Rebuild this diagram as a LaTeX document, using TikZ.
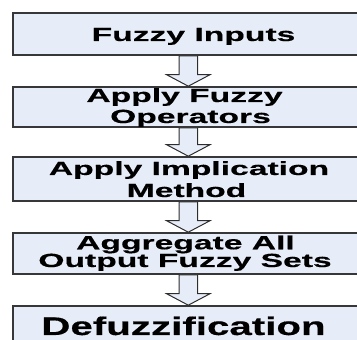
\documentclass[tikz,border=0pt]{standalone}
\usepackage{fontspec}
\usetikzlibrary{calc}
\newfontfamily\stepfont{Liberation Sans}[FakeStretch=1.77,FakeBold=0.5]
\newfontfamily\bigstepfont{Liberation Sans}[FakeStretch=1.58,FakeBold=0.5]
\definecolor{boxfill}{RGB}{231,237,248}
\definecolor{boxline}{RGB}{55,55,58}
\definecolor{arrowline}{RGB}{45,45,45}
\begin{document}
\begin{tikzpicture}[x=1pt,y=1pt,
  stepbox/.style={draw=boxline, line width=1.6pt, fill=boxfill,
    rectangle, inner sep=0pt, minimum width=349pt},
  steptext/.style={anchor=base, inner sep=0pt,
    font=\stepfont\bfseries\fontsize{19}{21}\selectfont},
  bigtext/.style={anchor=base, inner sep=0pt,
    font=\bigstepfont\bfseries\fontsize{25.5}{28}\selectfont},
  blockarrow/.style={draw=arrowline, line width=1pt, fill=boxfill, line join=miter}]
\useasboundingbox (0,0) rectangle (357,340);

% process steps
\node[stepbox, minimum height=42pt] (b1) at (187.5,306) {};
\node[stepbox, minimum height=40pt] (b2) at (187.5,233) {};
\node[stepbox, minimum height=44pt] (b3) at (187.5,161) {};
\node[stepbox, minimum height=41pt] (b4) at (187.5,86.5) {};
\node[stepbox, minimum height=44pt] (b5) at (187.5,12) {};

% hollow block arrows between consecutive steps
\foreach \a/\b in {b1/b2, b2/b3, b3/b4, b4/b5} {
  \draw[blockarrow]
    ($(\a.south)+(-8.4,0)$) -- ($(\b.north)+(-8.4,11.5)$)
    -- ($(\b.north)+(-20.9,11.5)$) -- ($(\b.north)+(0.8,0)$)
    -- ($(\b.north)+(22.5,11.5)$) -- ($(\b.north)+(10,11.5)$)
    -- ($(\a.south)+(10,0)$) -- cycle;
}

% step labels
\node[steptext] (t1) at (193.5,299) {Fuzzy Inputs};
\node[steptext] (t2a) at (184.5,238) {Apply Fuzzy};
\node[steptext] (t2b) at (190.5,217) {Operators};
\node[steptext] (t3a) at (189,165) {Apply Implication};
\node[steptext] (t3b) at (186.5,143) {Method};
\node[steptext] (t4a) at (185.5,90.7) {Aggregate All};
\node[steptext] (t4b) at (185,73) {Output Fuzzy Sets};
\node[bigtext] (t5) at (183.5,5) {Defuzzification};
\end{tikzpicture}
\end{document}
